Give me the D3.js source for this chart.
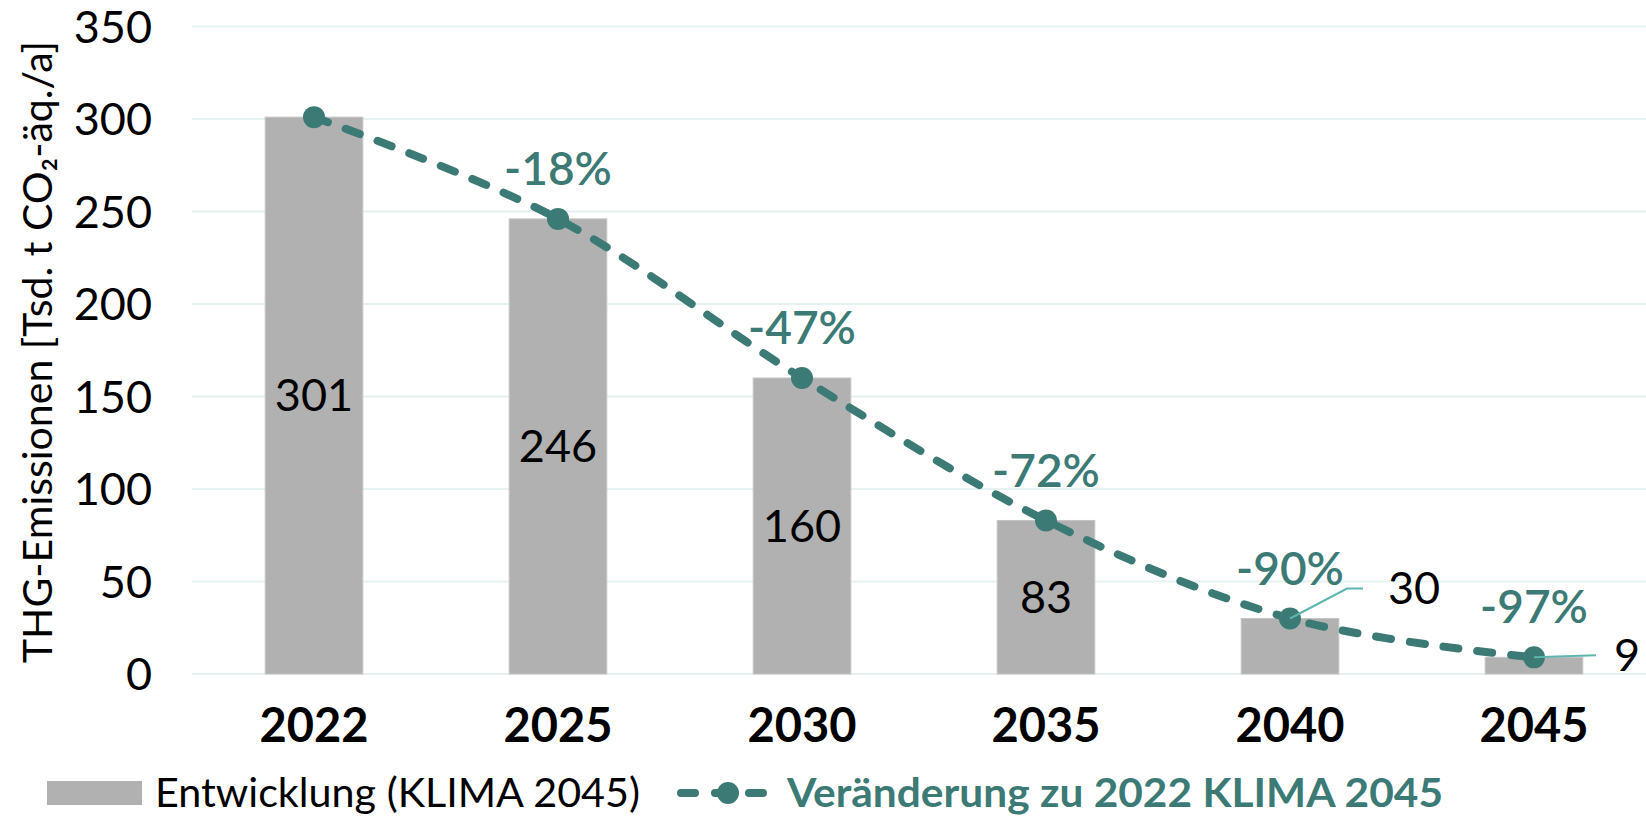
<!DOCTYPE html>
<html><head><meta charset="utf-8">
<script src="https://cdn.jsdelivr.net/npm/d3@7"></script>
<style>body{margin:0;background:#fff;overflow:hidden}svg{display:block}text{font-family:Lato,"Noto Sans",sans-serif}</style>
</head><body><svg id="c" width="1646" height="817"></svg>
<script>
const years = ["2022","2025","2030","2035","2040","2045"];
const emissions = [301,246,160,83,30,9];
const changeLabels = ["","-18%","-47%","-72%","-90%","-97%"];
const yTicks = [0,50,100,150,200,250,300,350];
const seriesBar = "Entwicklung (KLIMA 2045)";
const seriesLine = "Veränderung zu 2022 KLIMA 2045";
const yTitle = "THG-Emissionen [Tsd. t CO₂-äq./a]";

const teal = "#3b7a75", barCol = "#b1b1b1", leader = "#5cb6ae";
const svg = d3.select("#c");
const x = d3.scaleBand().domain(years).range([192,1656]).paddingInner(0.6).paddingOuter(0.3);
const y = d3.scaleLinear().domain([0,350]).range([674,26.5]);

// grid
svg.append("g").selectAll("line").data(yTicks).join("line")
  .attr("x1",192).attr("x2",1646).attr("y1",d=>y(d)).attr("y2",d=>y(d))
  .attr("stroke","#e6f2f2").attr("stroke-width",2);
// y axis labels
const yAxis = d3.axisLeft(y).tickValues(yTicks).tickSize(0).tickPadding(0);
const ga = svg.append("g").attr("transform","translate(152,0)").call(yAxis);
ga.select(".domain").remove();
ga.selectAll("text").attr("font-size",45).attr("fill","#000").attr("font-family","Lato").attr("dy","0.35em");
// x axis labels
const xAxis = d3.axisBottom(x).tickSize(0).tickPadding(0);
const gx = svg.append("g").attr("transform","translate(0,709)").call(xAxis);
gx.select(".domain").remove();
gx.selectAll("text").attr("font-size",47).attr("font-weight","bold").attr("fill","#000").attr("font-family","Lato").attr("dy","0.7em");

// y title
svg.append("text").attr("transform","translate(52,352) rotate(-90)")
  .attr("text-anchor","middle").attr("font-size",41).attr("fill","#000").text(yTitle);

// bars
svg.append("g").selectAll("rect").data(emissions).join("rect")
  .attr("x",(d,i)=>x(years[i])).attr("width",x.bandwidth())
  .attr("y",d=>y(d)).attr("height",d=>y(0)-y(d))
  .attr("fill",barCol).attr("stroke","#c4c4c4").attr("stroke-width",1);

// line
const cx = (i)=>x(years[i])+x.bandwidth()/2;
const line = d3.line().x((d,i)=>cx(i)).y(d=>y(d)).curve(d3.curveCatmullRom.alpha(0));
svg.append("path").datum(emissions).attr("d",line).attr("fill","none")
  .attr("stroke",teal).attr("stroke-width",8).attr("stroke-dasharray","15,19").attr("stroke-linecap","round");
svg.append("g").selectAll("circle").data(emissions).join("circle")
  .attr("cx",(d,i)=>cx(i)).attr("cy",d=>y(d)).attr("r",11).attr("fill",teal);

// value labels inside bars (first four)
svg.append("g").selectAll("text").data(emissions.slice(0,4)).join("text")
  .attr("x",(d,i)=>cx(i)).attr("y",d=>y(d/2)).attr("dy","0.35em")
  .attr("text-anchor","middle").attr("font-size",45).attr("fill","#000").text(d=>d);

// outside labels with leaders (last two)
[[4, 57, -30, 16, 25],[5, 62, -2, 0, 18]].forEach(([i,dx,dy,h,gap])=>{
  const px = cx(i), py = y(emissions[i]);
  svg.append("path").attr("d",`M${px},${py}L${px+dx},${py+dy}L${px+dx+h},${py+dy}`)
    .attr("fill","none").attr("stroke",leader).attr("stroke-width",2);
  svg.append("text").attr("x",px+dx+h+gap).attr("y",py+dy).attr("dy","0.35em")
    .attr("font-size",45).attr("fill","#000").text(emissions[i]);
});

// percent labels
svg.append("g").selectAll("text").data(emissions).join("text")
  .attr("x",(d,i)=>cx(i)).attr("y",d=>y(d)-50).attr("dy","0.35em")
  .attr("text-anchor","middle").attr("font-size",46).attr("font-weight","600")
  .attr("fill",teal).text((d,i)=>changeLabels[i]);

// legend
const lg = svg.append("g");
lg.append("rect").attr("x",47).attr("y",781).attr("width",95).attr("height",24).attr("fill",barCol);
lg.append("text").attr("x",155).attr("y",793).attr("dy","0.35em").attr("font-size",40)
  .attr("textLength",485).attr("lengthAdjust","spacingAndGlyphs").attr("fill","#000").text(seriesBar);
lg.append("line").attr("x1",681).attr("x2",774).attr("y1",793).attr("y2",793)
  .attr("stroke",teal).attr("stroke-width",8).attr("stroke-linecap","round").attr("stroke-dasharray","14,20");
lg.append("circle").attr("cx",728).attr("cy",793).attr("r",11).attr("fill",teal);
lg.append("text").attr("x",787).attr("y",793).attr("dy","0.35em").attr("font-size",40).attr("font-weight","bold")
  .attr("textLength",656).attr("lengthAdjust","spacingAndGlyphs").attr("fill",teal).text(seriesLine);
</script></body></html>
